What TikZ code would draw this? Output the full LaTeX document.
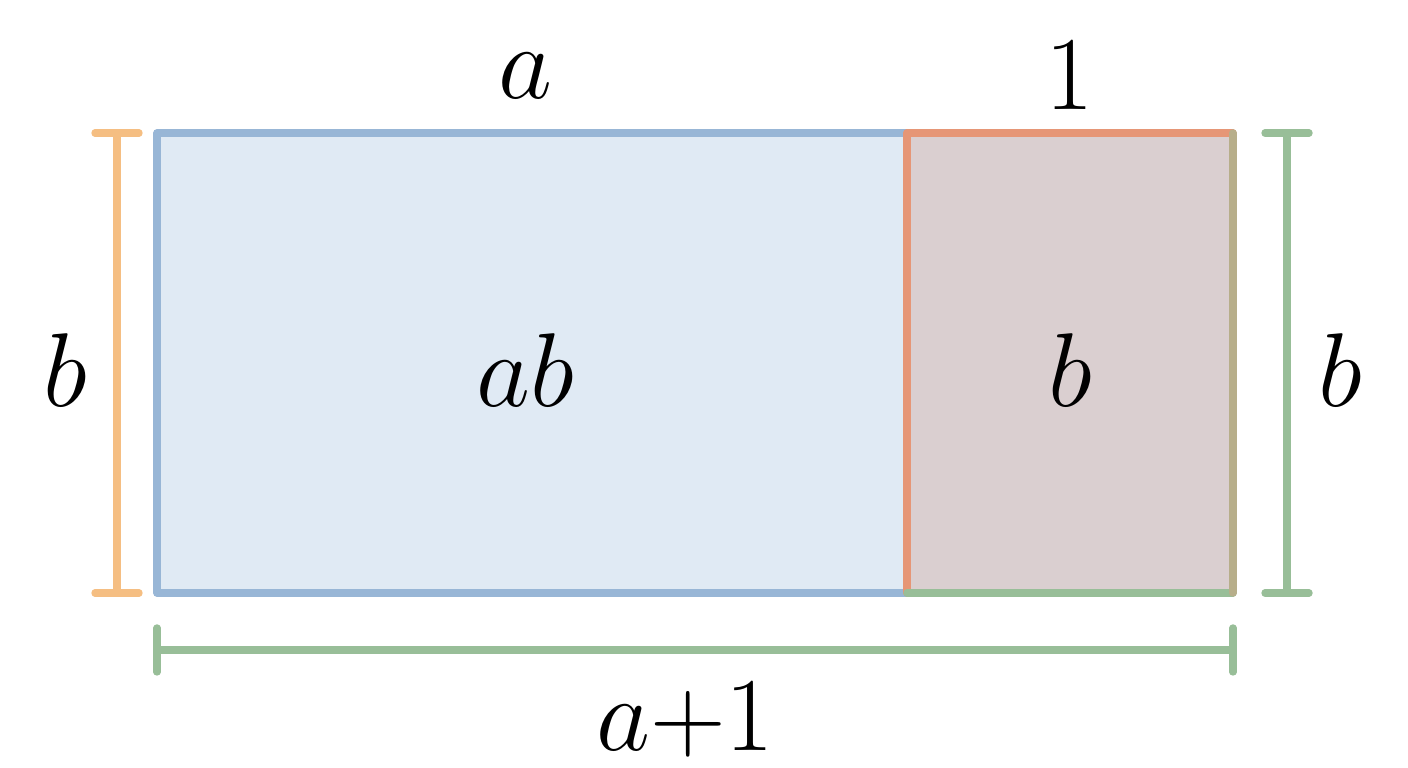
\documentclass[tikz,border=0pt]{standalone}
\usetikzlibrary{positioning}
\definecolor{blueln}{RGB}{152,182,214}
\definecolor{bluefill}{RGB}{224,234,244}
\definecolor{redln}{RGB}{230,150,118}
\definecolor{redfill}{RGB}{218,207,208}
\definecolor{orangeln}{RGB}{245,190,130}
\definecolor{greenln}{RGB}{152,190,152}
\begin{document}
\begin{tikzpicture}
	\tikzset{
	edge/.style={line width=2.1pt, line cap=round, line join=round},
	lbl/.style={font=\fontsize{24}{28}\selectfont, scale=1.2}}
	\useasboundingbox (0,0) rectangle (14.08,7.68);

	%Rechtecke
	\coordinate (bl) at (1.57,1.75);
	\coordinate (tl) at (1.57,6.35);
	\coordinate (bm) at (9.07,1.75);
	\coordinate (tm) at (9.07,6.35);
	\coordinate (br) at (12.33,1.75);
	\coordinate (tr) at (12.33,6.35);
	\fill[bluefill] (bl) rectangle (tm);
	\fill[redfill] (bm) rectangle (tr);
	\draw[edge, blueln] (bm)--(bl)--(tl)--(tm);
	\draw[edge, redln] (tm)--(tr);
	\draw[edge, redln] (tm)--(bm);
	\draw[edge, greenln] (bm)--(br);
	\draw[edge, greenln!60!redln] (tr)--(br);

	%Klammern
	\draw[edge, orangeln] (1.17,1.75)--(1.17,6.35);
	\draw[edge, orangeln] (0.95,1.75)--++(0.44,0) (0.95,6.35)--++(0.44,0);
	\draw[edge, greenln] (12.87,1.75)--(12.87,6.35);
	\draw[edge, greenln] (12.65,1.75)--++(0.44,0) (12.65,6.35)--++(0.44,0);
	\draw[edge, greenln] (1.57,1.18)--(12.33,1.18);
	\draw[edge, greenln] (1.57,0.96)--++(0,0.44) (12.33,0.96)--++(0,0.44);

	%beschriftung
	\node[lbl] (la) at (5.25,6.92) {$a$};
	\node[lbl] (lone) at (10.7,6.92) {$1$};
	\node[lbl] (lbleft) at (0.65,3.98) {$b$};
	\node[lbl] (lab) at (5.25,3.98) {$ab$};
	\node[lbl] (lbmid) at (10.7,3.98) {$b$};
	\node[lbl] (lbright) at (13.4,3.98) {$b$};
	\node[lbl] (lsum) at (6.85,0.48) {$a{+}1$};
\end{tikzpicture}
\end{document}
